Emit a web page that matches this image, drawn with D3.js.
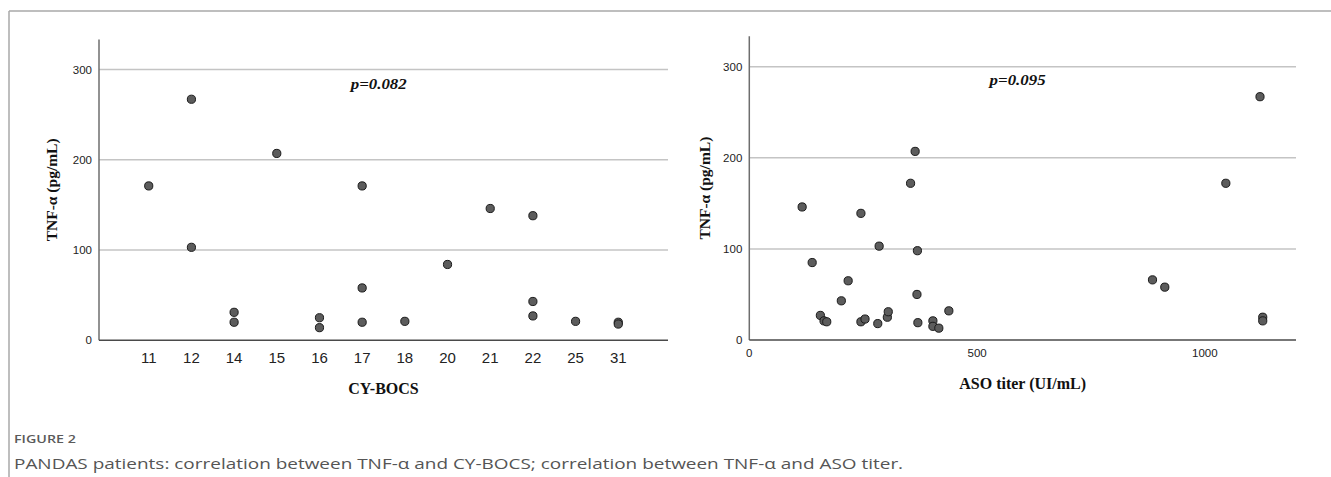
<!DOCTYPE html>
<html><head><meta charset="utf-8">
<script src="https://cdn.jsdelivr.net/npm/d3@7"></script>
<style>body{margin:0;background:#fff}svg{display:block}</style>
</head><body>
<svg id="c" width="1331" height="477"></svg>
<script>
// ---------- data ----------
const cyCategories = ["11","12","14","15","16","17","18","20","21","22","25","31"];
const cyX   = ["11","12","12","14","14","15","16","16","17","17","17","18","20","21","22","22","22","25","31","31"];
const cyTnf = [171,267,103,31,20,207,25,14,171,58,20,21,84,146,138,43,27,21,20,18];

const asoX   = [116,138,156,164,170,202,217,245,245,254,282,285,303,305,354,364,369,368,370,403,403,416,438,885,912,1046,1121,1127,1127];
const asoTnf = [146,85,27,21,20,43,65,139,20,23,18,103,25,31,172,207,98,50,19,21,15,13,32,66,58,172,267,25,21];

const yTicks = [0,100,200,300];
const asoTicks = [0,500,1000];
const pLeft = "p=0.082", pRight = "p=0.095";
const xTitleLeft = "CY-BOCS", xTitleRight = "ASO titer (UI/mL)";
const yTitle = "TNF-α (pg/mL)";
const figLabel = "FIGURE 2";
const caption = "PANDAS patients: correlation between TNF-α and CY-BOCS; correlation between TNF-α and ASO titer.";

const svg = d3.select("#c");

// frame
svg.append("line").attr("x1",9).attr("x2",1331).attr("y1",11).attr("y2",11).attr("stroke","#a8a8a8").attr("stroke-width",1.5);
svg.append("line").attr("x1",9).attr("x2",9).attr("y1",11).attr("y2",477).attr("stroke","#a8a8a8").attr("stroke-width",1.5);

const sans = "'Liberation Sans', Arial, sans-serif";
const serif = "'Liberation Serif', 'Times New Roman', serif";

function panel(opts){
  const {x, y, xs, ys, pts, tickFont, xTickFont, xTickY, xTitle, xTitleY, yTitleX, pText, pX, pY} = opts;
  const g = svg.append("g");
  const [x0,x1] = x.range();
  const [y0,y1] = y.range();
  // gridlines
  g.selectAll(".grid").data(yTicks.filter(d=>d>0)).join("line")
    .attr("x1",x0).attr("x2",x1).attr("y1",d=>y(d)).attr("y2",d=>y(d))
    .attr("stroke","#c4c4c4").attr("stroke-width",1.5);
  // axes lines
  g.append("line").attr("x1",x0).attr("x2",x0).attr("y1",y0).attr("y2",y1).attr("stroke","#6e6e6e").attr("stroke-width",1.5);
  g.append("line").attr("x1",x0).attr("x2",x1).attr("y1",y0).attr("y2",y0).attr("stroke","#4a4a4a").attr("stroke-width",1.6);
  // y tick labels
  g.selectAll(".yt").data(yTicks).join("text")
    .attr("x",x0-7).attr("y",d=>y(d)).attr("dy","0.36em").attr("text-anchor","end")
    .attr("font-family",sans).attr("font-size",tickFont).attr("fill","#222").text(d=>d);
  // x tick labels
  g.selectAll(".xt").data(opts.xTickVals).join("text")
    .attr("x",d=>x(d)).attr("y",xTickY).attr("text-anchor","middle")
    .attr("font-family",sans).attr("font-size",xTickFont).attr("fill","#222").text(d=>d);
  // titles
  g.append("text").attr("x",(x0+x1)/2).attr("y",xTitleY).attr("text-anchor","middle")
    .attr("font-family",serif).attr("font-weight","bold").attr("font-size",16).attr("fill","#111").text(xTitle);
  g.append("text").attr("transform",`translate(${yTitleX},${(y0+y1)/2}) rotate(-90)`).attr("dy","0.35em")
    .attr("text-anchor","middle").attr("font-family",serif).attr("font-weight","bold").attr("font-size",15.5).attr("fill","#111").text(yTitle);
  // p value
  g.append("text").attr("x",pX).attr("y",pY).attr("text-anchor","middle")
    .attr("font-family",serif).attr("font-weight","bold").attr("font-style","italic").attr("font-size",14)
    .attr("textLength",56).attr("lengthAdjust","spacingAndGlyphs").attr("fill","#111").text(pText);
  // points
  g.selectAll("circle").data(xs.map((v,i)=>[v,ys[i]])).join("circle")
    .attr("cx",d=>x(d[0])).attr("cy",d=>y(d[1])).attr("r",4.1)
    .attr("fill","#5c5c5c").attr("stroke","#1a1a1a").attr("stroke-width",1);
}

// left panel
const xL = d3.scalePoint().domain(cyCategories).range([99,668]).padding(1.165);
const yL = d3.scaleLinear().domain([0,333.3]).range([340.3,39.4]);
panel({x:xL, y:yL, xs:cyX, ys:cyTnf, tickFont:11.5, xTickFont:15, xTickY:362.5, xTickVals:cyCategories,
  xTitle:xTitleLeft, xTitleY:394, yTitleX:52, pText:pLeft, pX:99+0.4916*569, pY:yL(278)});

// right panel
const xR = d3.scaleLinear().domain([0,1200]).range([749.3,1296]);
const yR = d3.scaleLinear().domain([0,333.3]).range([340,36.3]);
panel({x:xR, y:yR, xs:asoX, ys:asoTnf, tickFont:11.5, xTickFont:11.5, xTickY:357, xTickVals:asoTicks,
  xTitle:xTitleRight, xTitleY:388.5, yTitleX:705, pText:pRight, pX:xR(589), pY:yR(280)});

// caption
const cap = svg.append("g");
const f2 = cap.append("text").attr("x",14).attr("y",443).attr("font-family","'Open Sans', sans-serif")
  .attr("font-weight",600).attr("font-size",11).attr("fill","#5a5a5a").text(figLabel);
const f2w = f2.node().getComputedTextLength();
f2.attr("transform",`translate(14,0) scale(${62/f2w},1) translate(-14,0)`);
const probe = cap.append("text").attr("font-family","'Open Sans', sans-serif").attr("font-size",14).text("PANDAS patients: correlation between TNF-");
const pw = probe.node().getComputedTextLength(); probe.remove();
const s = 384/pw;
cap.append("text").attr("x",14).attr("y",469.5).attr("font-family","'Open Sans', sans-serif").attr("font-size",14)
  .attr("fill","#555").attr("transform",`translate(14,0) scale(${s},1) translate(-14,0)`).text(caption);
</script>
</body></html>
